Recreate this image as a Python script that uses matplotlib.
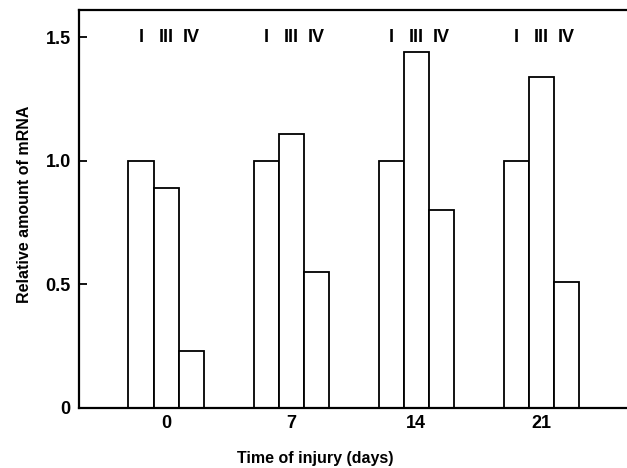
import matplotlib
matplotlib.use("Agg")
import matplotlib.pyplot as plt
import numpy as np

days = [0, 7, 14, 21]
day_labels = ["0", "7", "14", "21"]
series_names = ["I", "III", "IV"]
val_I = [1.0, 1.0, 1.0, 1.0]
val_III = [0.89, 1.11, 1.44, 1.34]
val_IV = [0.23, 0.55, 0.80, 0.51]
yticks = [0, 0.5, 1.0, 1.5]
ytick_labels = ["0", "0.5", "1.0", "1.5"]

plt.rcParams['font.family'] = ['Liberation Sans Narrow', 'Liberation Sans', 'DejaVu Sans']
plt.rcParams['font.weight'] = 'bold'
plt.rcParams['axes.labelweight'] = 'bold'

fig = plt.figure(figsize=(6.27, 4.68), dpi=100)
ax = fig.add_axes([79/627, 1 - 408/468, 1 - 79/627, (408 - 10)/468])

width = 1.4
offsets = [-width, 0, width]
x = np.array(days, dtype=float)
for vals, off, name in zip([val_I, val_III, val_IV], offsets, series_names):
    ax.bar(x + off, vals, width=width, facecolor="white", edgecolor="black",
           linewidth=1.3, zorder=2)
    for xi in x:
        ax.text(xi + off, 1.5, name, ha="center", va="center", fontsize=13)

ax.set_xlim(-4.87, 25.8)
ax.set_ylim(0, 1.61)
ax.set_xticks(days)
ax.set_xticklabels(day_labels, fontsize=13)
ax.set_yticks(yticks)
ax.set_yticklabels(ytick_labels, fontsize=13)
ax.tick_params(axis="x", length=0, pad=5)
ax.tick_params(axis="y", length=6, width=1.3, direction="in", pad=6)
ax.spines["right"].set_visible(False)
for s in ["left", "top", "bottom"]:
    ax.spines[s].set_linewidth(1.6)

ax.set_xlabel("Time of injury (days)", fontsize=11.5)
ax.set_ylabel("Relative amount of mRNA", fontsize=11.5)
ax.xaxis.set_label_coords((315 - 79) / 548, -(458 - 408) / 398, transform=ax.transAxes)
ax.yaxis.set_label_coords(-(79 - 25) / 548, (408 - 204) / 398, transform=ax.transAxes)
ax.xaxis.label.set_va("center")
ax.yaxis.label.set_va("center")

fig.savefig("out.png", dpi=100)
